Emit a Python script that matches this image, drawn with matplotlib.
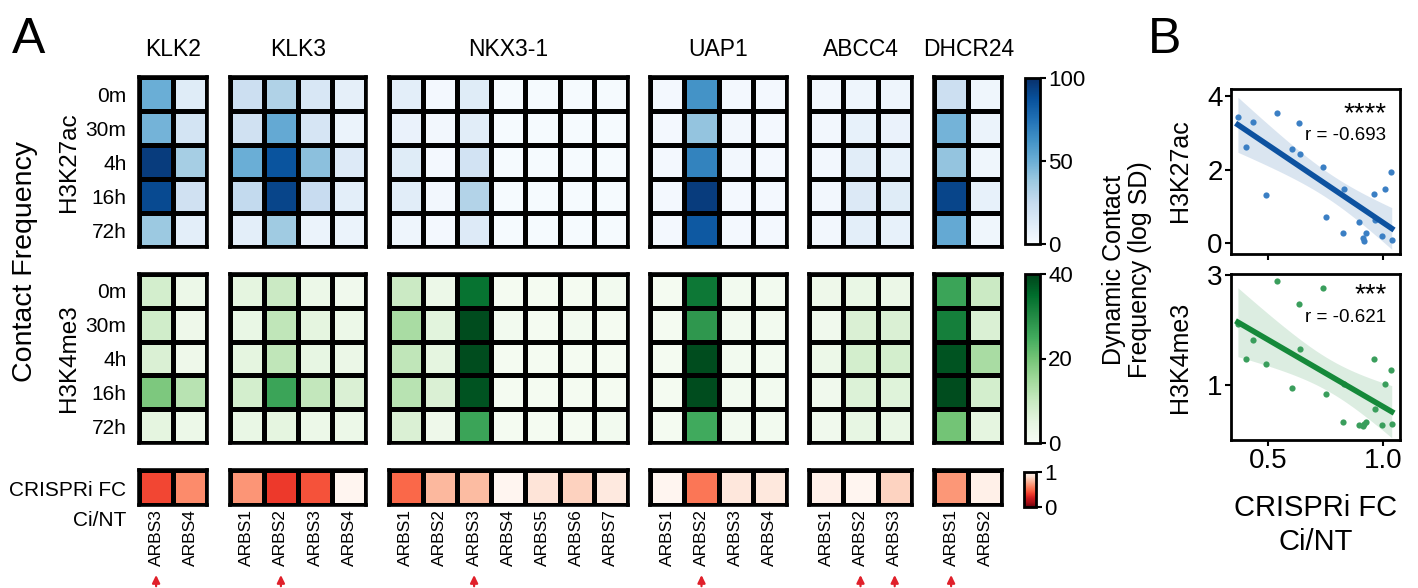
import numpy as np
import matplotlib
matplotlib.use("Agg")
import matplotlib.pyplot as plt

plt.rcParams['font.family'] = ['Liberation Sans', 'DejaVu Sans']

W, H = 1418, 588

genes = ['KLK2', 'KLK3', 'NKX3-1', 'UAP1', 'ABCC4', 'DHCR24']
arbs = [['ARBS3', 'ARBS4'],
        ['ARBS1', 'ARBS2', 'ARBS3', 'ARBS4'],
        ['ARBS1', 'ARBS2', 'ARBS3', 'ARBS4', 'ARBS5', 'ARBS6', 'ARBS7'],
        ['ARBS1', 'ARBS2', 'ARBS3', 'ARBS4'],
        ['ARBS1', 'ARBS2', 'ARBS3'],
        ['ARBS1', 'ARBS2']]
timepoints = ['0m', '30m', '4h', '16h', '72h']

# H3K27ac contact frequency, rows = timepoints, cols = ARBS
k27_klk2 = [[50, 12], [48, 18], [95, 35], [90, 20], [38, 10]]
k27_klk3 = [[22, 32, 16, 9], [20, 52, 17, 6], [50, 86, 42, 13], [26, 92, 24, 10], [10, 37, 6, 6]]
k27_nkx31 = [[10, 2, 12, 1, 1, 1, 1], [7, 3, 11, 1, 1, 1, 1], [12, 2, 19, 1, 1, 1, 1],
             [11, 3, 31, 1, 1, 1, 1], [5, 2, 13, 1, 1, 1, 1]]
k27_uap1 = [[2, 62, 2, 2], [2, 40, 3, 2], [2, 68, 3, 2], [2, 95, 2, 2], [2, 84, 2, 2]]
k27_abcc4 = [[3, 5, 5], [3, 8, 7], [3, 11, 8], [3, 14, 12], [3, 10, 8]]
k27_dhcr24 = [[22, 4], [48, 6], [40, 4], [92, 8], [52, 4]]

# H3K4me3 contact frequency
k4_klk2 = [[8, 3], [8.5, 2.5], [7, 2.5], [19, 12], [5, 3]]
k4_klk3 = [[5, 9.5, 3, 2], [4, 11, 5, 3], [5, 11, 4.5, 3.5], [8, 26, 10.5, 7], [4, 5, 3, 3]]
k4_nkx31 = [[9.5, 3, 34, 1, 1, 1, 1.5], [14, 5.5, 39, 1.5, 1, 1.5, 1], [11, 5, 39, 1, 1, 1, 1],
            [12, 7, 38, 1, 1, 1, 1], [7, 2.5, 26, 1, 1, 1, 1.5]]
k4_uap1 = [[1, 33, 1.5, 1.5], [1, 28, 1.5, 1.5], [1, 39, 1.5, 1.5], [1, 39, 1.5, 1.5], [1, 25, 1.5, 1.5]]
k4_abcc4 = [[2.5, 4, 3.5], [2, 7, 7], [3, 8, 8], [2, 6.5, 6], [2, 4.5, 4]]
k4_dhcr24 = [[26, 9.5], [32, 7], [38, 14], [39, 8], [20, 5]]

# CRISPRi fold change Ci/NT
fc_klk2 = [0.405, 0.605]
fc_klk3 = [0.636, 0.370, 0.437, 1.010]
fc_nkx31 = [0.493, 0.742, 0.751, 1.038, 0.898, 0.828, 0.927]
fc_uap1 = [1.039, 0.538, 0.915, 0.918]
fc_abcc4 = [0.964, 0.997, 0.832]
fc_dhcr24 = [0.638, 0.968]

# ARBS marked with red arrows
marked = {'KLK2': ['ARBS3'], 'KLK3': ['ARBS2'], 'NKX3-1': ['ARBS3'], 'UAP1': ['ARBS2'],
          'ABCC4': ['ARBS2', 'ARBS3'], 'DHCR24': ['ARBS1']}

# dynamic contact frequency (log SD), same ARBS order as above
sd_k27 = [2.61, 2.57, 3.28, 3.44, 3.30, 1.47, 1.31, 2.08, 0.72, 1.93, 0.57,
          0.28, 0.27, 0.09, 3.55, 0.14, 0.06, 1.33, 0.20, 1.47, 2.42, 0.62]
sd_k4 = [1.47, 0.94, 2.47, 2.11, 1.82, 1.01, 1.39, 2.76, 0.84, 1.27, 0.27,
         0.33, 0.32, 0.30, 2.89, 0.25, 0.30, 1.47, 0.27, 1.02, 1.65, 0.56]

k27_all = [k27_klk2, k27_klk3, k27_nkx31, k27_uap1, k27_abcc4, k27_dhcr24]
k4_all = [k4_klk2, k4_klk3, k4_nkx31, k4_uap1, k4_abcc4, k4_dhcr24]
fc_all = [fc_klk2, fc_klk3, fc_nkx31, fc_uap1, fc_abcc4, fc_dhcr24]


def px_axes(fig, x, y, w, h):
    return fig.add_axes([x / W, 1 - (y + h) / H, w / W, h / H])


def heat(ax, data, cmap, vmin, vmax):
    arr = np.atleast_2d(np.asarray(data, float))
    m = ax.pcolormesh(arr, cmap=cmap, vmin=vmin, vmax=vmax,
                      edgecolors='black', linewidth=2.2)
    ax.set_xlim(0, arr.shape[1])
    ax.set_ylim(arr.shape[0], 0)
    ax.set_xticks([])
    ax.set_yticks([])
    for s in ax.spines.values():
        s.set_linewidth(2.6)
    return m


fig = plt.figure(figsize=(W / 100, H / 100), dpi=100)

cw, gap, x0 = 34.2, 22.2, 139
rows = [(77, 170), (274, 169), (470, 35)]

left = x0
for g, name in enumerate(genes):
    labels = arbs[g]
    n = len(labels)
    w = n * cw
    ax1 = px_axes(fig, left, rows[0][0], w, rows[0][1])
    m_blue = heat(ax1, k27_all[g], 'Blues', 0, 100)
    ax2 = px_axes(fig, left, rows[1][0], w, rows[1][1])
    m_green = heat(ax2, k4_all[g], 'Greens', 0, 40)
    ax3 = px_axes(fig, left, rows[2][0], w, rows[2][1])
    m_red = heat(ax3, [fc_all[g]], 'Reds_r', 0, 1)

    fig.text((left + w / 2) / W, 1 - 50 / H, name, ha='center', va='center', fontsize=16.5)

    ax3.set_xticks(np.arange(n) + 0.5)
    ax3.set_xticklabels(labels, rotation=90, fontsize=12.5)
    ax3.tick_params(axis='x', length=0, pad=3)
    for lab in marked[name]:
        c = labels.index(lab) + 0.5
        ax3.annotate('', xy=(c, -1.92), xytext=(c, -2.4),
                     xycoords=('data', 'axes fraction'),
                     arrowprops=dict(arrowstyle='-|>,head_width=0.22,head_length=0.45',
                                     color='#e0202a', lw=1.6))

    if g == 0:
        for ax in (ax1, ax2):
            ax.set_yticks(np.arange(5) + 0.5)
            ax.set_yticklabels(timepoints, fontsize=15)
            ax.tick_params(axis='y', length=0, pad=9)
    left += w + gap

fig.text(25 / W, 1 - 262 / H, 'Contact Frequency', rotation=90, ha='center', va='center', fontsize=20.5)
fig.text(69 / W, 1 - 162 / H, 'H3K27ac', rotation=90, ha='center', va='center', fontsize=17.5)
fig.text(69 / W, 1 - 358 / H, 'H3K4me3', rotation=90, ha='center', va='center', fontsize=17.5)
fig.text(126 / W, 1 - 490 / H, 'CRISPRi FC', ha='right', va='center', fontsize=15)
fig.text(126 / W, 1 - 521 / H, 'Ci/NT', ha='right', va='center', fontsize=15)

# colorbars
for cpos, mappable, ticks in [((1025, 78, 15, 166), m_blue, [0, 50, 100]),
                              ((1025, 274, 15, 169), m_green, [0, 20, 40]),
                              ((1024, 472, 12, 35), m_red, [0, 1])]:
    cax = px_axes(fig, *cpos)
    cb = fig.colorbar(mappable, cax=cax, ticks=ticks)
    cb.outline.set_linewidth(2)
    cax.tick_params(labelsize=16, length=4, width=1.5, pad=2)

fig.text(1127 / W, 1 - 270 / H, 'Dynamic Contact\nFrequency (log SD)', rotation=90,
         ha='center', va='center', fontsize=18, multialignment='center', linespacing=1.15)

# panel B scatter + regression
fc_x = np.concatenate([np.asarray(v, float) for v in fc_all])


def reg_panel(ax, x, y, pt_color, line_color):
    y = np.asarray(y, float)
    ax.scatter(x, y, s=20, color=pt_color, linewidths=0, zorder=3)
    b, a = np.polyfit(x, y, 1)
    xs = np.linspace(x.min(), x.max(), 100)
    fit = a + b * xs
    n = len(x)
    s = np.sqrt(np.sum((y - (a + b * x)) ** 2) / (n - 2))
    se = s * np.sqrt(1 / n + (xs - x.mean()) ** 2 / np.sum((x - x.mean()) ** 2))
    t = 2.086
    ax.fill_between(xs, fit - t * se, fit + t * se, color=line_color, alpha=0.15, lw=0, zorder=1)
    ax.plot(xs, fit, color=line_color, lw=4, zorder=4)
    ax.set_xlim(0.34, 1.075)
    ax.set_xticks([0.5, 1.0])
    for sp in ax.spines.values():
        sp.set_linewidth(2)
    ax.tick_params(labelsize=20, length=4, width=1.5, pad=2)


axb1 = px_axes(fig, 1231, 89, 169, 165)
reg_panel(axb1, fc_x, sd_k27, '#3b7fc4', '#0d52a0')
axb1.set_ylim(-0.3, 4.2)
axb1.set_yticks([0, 2, 4])
axb1.set_xticklabels([])
axb1.text(0.92, 0.85, '****', transform=axb1.transAxes, ha='right', va='center', fontsize=20)
axb1.text(0.92, 0.72, 'r = -0.693', transform=axb1.transAxes, ha='right', va='center', fontsize=13.5)

axb2 = px_axes(fig, 1231, 274, 169, 166)
reg_panel(axb2, fc_x, sd_k4, '#3a9e5c', '#15893a')
axb2.set_ylim(0.0, 3.02)
axb2.set_yticks([1, 3])
axb2.set_xticklabels(['0.5', '1.0'])
axb2.text(0.92, 0.87, '***', transform=axb2.transAxes, ha='right', va='center', fontsize=20)
axb2.text(0.92, 0.74, 'r = -0.621', transform=axb2.transAxes, ha='right', va='center', fontsize=13.5)
axb2.set_xlabel('CRISPRi FC\nCi/NT', fontsize=21, labelpad=14, linespacing=1.3)

fig.text(1180 / W, 1 - 171 / H, 'H3K27ac', rotation=90, ha='center', va='center', fontsize=18)
fig.text(1180 / W, 1 - 357 / H, 'H3K4me3', rotation=90, ha='center', va='center', fontsize=18)

fig.text(29 / W, 1 - 40 / H, 'A', ha='center', va='center', fontsize=36)
fig.text(1165 / W, 1 - 40 / H, 'B', ha='center', va='center', fontsize=36)

fig.savefig('out.png', dpi=100)
